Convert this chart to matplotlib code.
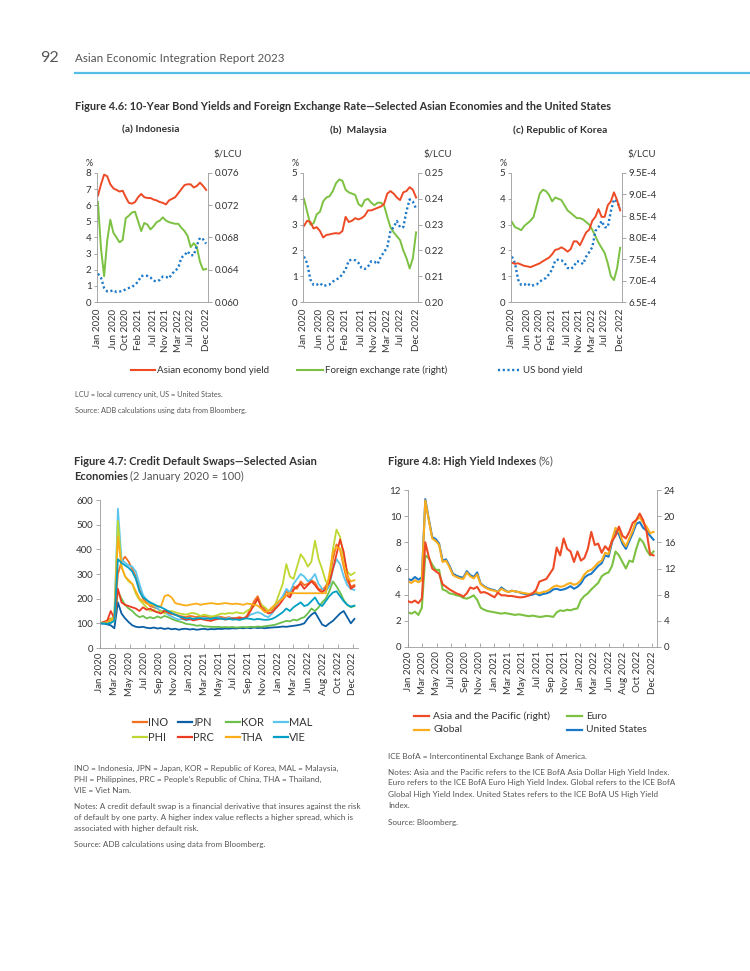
import numpy as np
import matplotlib.pyplot as plt
from matplotlib.lines import Line2D
from matplotlib.ticker import FuncFormatter

plt.rcParams['font.family'] = ['Lato', 'DejaVu Sans']

# ---------------- Figure 4.6 (monthly, Jan 2020 - Dec 2022)
months = np.arange(36)
m_ticks = [0, 5, 9, 13, 18, 22, 26, 30, 35]
m_labels = ['Jan 2020', 'Jun 2020', 'Oct 2020', 'Feb 2021', 'Jul 2021',
            'Nov 2021', 'Mar 2022', 'Jul 2022', 'Dec 2022']

us_yield = [1.76, 1.50, 0.87, 0.66, 0.67, 0.73, 0.62, 0.65, 0.68, 0.79, 0.87, 0.93,
            1.08, 1.26, 1.61, 1.64, 1.62, 1.52, 1.32, 1.28, 1.37, 1.58, 1.56, 1.47,
            1.76, 1.93, 2.13, 2.75, 2.90, 3.14, 2.90, 2.90, 3.52, 3.98, 3.89, 3.62]

idn_yield = [6.6, 7.3, 7.9, 7.8, 7.3, 7.05, 6.95, 6.85, 6.9, 6.5, 6.15, 6.1,
             6.2, 6.5, 6.7, 6.5, 6.45, 6.45, 6.35, 6.3, 6.2, 6.15, 6.05, 6.3,
             6.4, 6.5, 6.75, 7.0, 7.25, 7.3, 7.3, 7.1, 7.2, 7.4, 7.2, 6.95]
idn_fx = [0.0724, 0.0666, 0.0632, 0.0676, 0.0702, 0.0686, 0.0680, 0.0674, 0.0677, 0.0704, 0.0707, 0.0711,
          0.0712, 0.0700, 0.0688, 0.0698, 0.0696, 0.0690, 0.0694, 0.0699, 0.0701, 0.0705, 0.0701, 0.0699,
          0.0698, 0.0697, 0.0697, 0.0692, 0.0688, 0.0682, 0.0668, 0.0673, 0.0668, 0.0650, 0.0640, 0.0641]

mys_yield = [2.95, 3.15, 3.1, 2.85, 2.9, 2.75, 2.5, 2.6, 2.62, 2.65, 2.67, 2.65,
             2.75, 3.3, 3.1, 3.15, 3.25, 3.2, 3.25, 3.35, 3.55, 3.55, 3.6, 3.65,
             3.7, 3.8, 4.2, 4.3, 4.2, 4.05, 3.95, 4.25, 4.3, 4.45, 4.35, 4.05]
mys_fx = [0.240, 0.235, 0.230, 0.2305, 0.234, 0.235, 0.239, 0.2405, 0.241, 0.243, 0.246, 0.2475,
          0.247, 0.2435, 0.2425, 0.242, 0.2415, 0.238, 0.237, 0.2395, 0.240, 0.2385, 0.2375, 0.2385,
          0.2385, 0.2375, 0.233, 0.229, 0.227, 0.2255, 0.224, 0.220, 0.217, 0.213, 0.217, 0.227]

kor_yield = [1.52, 1.48, 1.5, 1.45, 1.4, 1.38, 1.35, 1.4, 1.45, 1.5, 1.58, 1.65,
             1.72, 1.85, 2.02, 2.05, 2.12, 2.05, 1.95, 2.05, 2.35, 2.35, 2.2, 2.45,
             2.7, 2.8, 3.15, 3.3, 3.6, 3.3, 3.3, 3.75, 3.9, 4.25, 3.95, 3.55]
kor_fx_e4 = [8.36, 8.24, 8.21, 8.17, 8.27, 8.33, 8.39, 8.48, 8.75, 9.02, 9.11, 9.08,
             8.99, 8.84, 8.93, 8.90, 8.87, 8.75, 8.63, 8.57, 8.51, 8.45, 8.45, 8.42,
             8.36, 8.30, 8.18, 8.03, 7.88, 7.76, 7.64, 7.40, 7.10, 7.01, 7.28, 7.76]
kor_fx = np.array(kor_fx_e4) * 1e-4

# ---------------- Figure 4.7 and 4.8 (half-month steps)
half = np.arange(72) * 0.5
d_labels = ['Jan 2020', 'Mar 2020', 'May 2020', 'Jul 2020', 'Sep 2020', 'Nov 2020',
            'Jan 2021', 'Mar 2021', 'May 2021', 'Jul 2021', 'Sep 2021', 'Nov 2021',
            'Jan 2022', 'Mar 2022', 'Jun 2022', 'Aug 2022', 'Oct 2022', 'Dec 2022']

ino = [100, 105, 110, 120, 115, 300, 350, 370, 350, 320,
       290, 240, 200, 185, 170, 165, 160, 150, 150, 140,
       138, 135, 130, 128, 125, 130, 128, 125, 130, 128,
       125, 122, 125, 128, 125, 122, 125, 120, 122, 125,
       120, 130, 160, 190, 210, 175, 160, 150, 155, 170,
       190, 200, 230, 215, 250, 240, 270, 255, 260, 275,
       265, 240, 235, 250, 280, 360, 420, 400, 330, 270,
       250, 255]
jpn = [100, 98, 96, 92, 80, 185, 140, 120, 105, 92,
       86, 84, 86, 82, 80, 83, 79, 81, 77, 80,
       76, 78, 74, 77, 78, 75, 77, 74, 76, 78,
       75, 77, 76, 78, 77, 79, 78, 80, 79, 81,
       80, 82, 80, 83, 81, 82, 80, 82, 83, 84,
       85, 87, 86, 88, 90, 92, 95, 100, 120, 135,
       145, 120, 95, 88, 100, 110, 125, 140, 150, 125,
       100, 118]
kor = [100, 102, 100, 105, 110, 230, 200, 175, 160, 150,
       135, 125, 130, 120, 125, 120, 128, 122, 130, 125,
       118, 112, 108, 104, 98, 96, 94, 90, 92, 88,
       87, 86, 85, 86, 84, 85, 84, 85, 83, 84,
       85, 84, 86, 85, 87, 86, 88, 90, 92, 95,
       100, 105, 110, 108, 115, 112, 120, 125, 140, 160,
       150, 165, 185, 200, 230, 270, 250, 225, 195, 175,
       165, 170]
mal = [100, 98, 102, 100, 120, 565, 360, 345, 335, 330,
       310, 260, 215, 195, 180, 170, 160, 150, 145, 135,
       128, 120, 115, 118, 112, 115, 118, 120, 118, 122,
       120, 118, 122, 125, 120, 118, 122, 120, 118, 115,
       120, 125, 135, 140, 145, 140, 130, 125, 140, 160,
       190, 210, 240, 225, 260, 280, 300, 290, 270, 280,
       300, 260, 240, 230, 250, 320, 360, 340, 290, 255,
       240, 235]
phi = [100, 105, 110, 115, 130, 515, 330, 290, 270, 260,
       220, 195, 180, 165, 150, 155, 145, 150, 140, 148,
       150, 145, 140, 138, 135, 140, 142, 138, 130, 135,
       132, 128, 130, 135, 140, 138, 142, 140, 145, 142,
       140, 150, 160, 170, 200, 175, 165, 150, 160, 180,
       220, 260, 340, 290, 280, 330, 380, 360, 330, 350,
       435, 360, 320, 270, 260, 400, 480, 450, 370, 310,
       295, 305]
prc = [100, 105, 110, 150, 120, 240, 185, 175, 170, 165,
       160, 150, 165, 155, 160, 150, 145, 140, 150, 145,
       140, 135, 130, 120, 115, 118, 112, 115, 118, 115,
       112, 110, 115, 118, 120, 115, 118, 120, 118, 122,
       120, 125, 150, 175, 200, 165, 150, 140, 145, 160,
       175, 195, 215, 205, 235, 250, 260, 240, 255, 270,
       255, 235, 225, 240, 265, 320, 380, 440, 390, 300,
       240, 250]
tha = [100, 102, 105, 110, 120, 450, 330, 290, 275, 260,
       230, 200, 190, 180, 175, 172, 170, 168, 210, 215,
       205, 182, 178, 175, 172, 175, 178, 180, 175, 178,
       180, 182, 180, 178, 180, 182, 180, 178, 180, 178,
       175, 180, 178, 175, 172, 160, 145, 150, 165, 175,
       190, 200, 215, 225, 222, 222, 222, 222, 222, 222,
       222, 222, 222, 222, 300, 390, 410, 400, 340, 290,
       270, 275]
vie = [100, 100, 98, 102, 110, 360, 345, 335, 325, 310,
       280, 230, 205, 195, 185, 178, 170, 165, 158, 150,
       142, 135, 128, 125, 120, 122, 118, 120, 122, 118,
       120, 118, 122, 120, 118, 116, 118, 115, 116, 114,
       118, 120, 118, 115, 118, 116, 114, 115, 118, 125,
       135, 145, 160, 150, 165, 175, 185, 170, 175, 190,
       205, 180, 170, 190, 210, 225, 230, 210, 190, 175,
       168, 172]
cds_names = ['INO', 'JPN', 'KOR', 'MAL', 'PHI', 'PRC', 'THA', 'VIE']
cds_series = [ino, jpn, kor, mal, phi, prc, tha, vie]
cds_colors = ['#f37021', '#0b5fa5', '#6cbf4a', '#5bc5ee',
              '#bfd730', '#ec3a23', '#fbad18', '#00a0c4']

asia = [7.0, 6.8, 7.1, 6.7, 7.4, 16.0, 13.8, 12.0, 11.6, 11.2,
        9.6, 9.2, 8.8, 8.5, 8.2, 8.0, 7.7, 8.2, 9.1, 8.9,
        9.2, 8.3, 8.4, 8.2, 7.9, 7.6, 8.3, 7.9, 7.9, 7.8,
        7.8, 7.7, 7.6, 7.6, 7.7, 7.9, 8.2, 8.7, 10.0, 10.2,
        10.4, 11.2, 12.0, 15.2, 14.0, 16.6, 15.0, 14.6, 13.0, 14.6,
        13.2, 13.6, 15.0, 17.6, 15.6, 15.8, 14.4, 15.4, 14.8, 16.2,
        17.0, 18.4, 17.0, 16.6, 17.6, 19.0, 19.4, 20.4, 19.4, 17.6,
        14.2, 14.0]
euro = [2.65, 2.55, 2.7, 2.45, 3.0, 7.0, 6.8, 6.3, 5.9, 5.9,
        4.4, 4.3, 4.1, 4.05, 3.95, 3.9, 3.75, 3.7, 3.8, 3.95,
        3.6, 3.0, 2.85, 2.75, 2.7, 2.65, 2.6, 2.55, 2.6, 2.55,
        2.5, 2.45, 2.5, 2.45, 2.4, 2.35, 2.4, 2.35, 2.3, 2.32,
        2.38, 2.35, 2.3, 2.65, 2.8, 2.75, 2.85, 2.8, 2.9, 2.95,
        3.6, 3.9, 4.1, 4.4, 4.65, 4.9, 5.4, 5.6, 5.7, 6.2,
        7.3, 7.0, 6.5, 6.0, 6.6, 6.5, 7.5, 8.3, 8.0, 7.4,
        7.0, 7.3]
glob = [5.0, 4.9, 5.1, 4.95, 5.1, 11.2, 9.7, 8.3, 8.1, 7.8,
        6.5, 6.6, 6.1, 5.5, 5.35, 5.25, 5.2, 5.7, 5.4, 5.25,
        5.55, 4.8, 4.6, 4.45, 4.35, 4.3, 4.2, 4.45, 4.3, 4.2,
        4.3, 4.25, 4.2, 4.15, 4.1, 4.05, 4.1, 4.2, 4.1, 4.2,
        4.25, 4.4, 4.6, 4.7, 4.6, 4.65, 4.8, 4.9, 4.75, 4.85,
        5.1, 5.55, 5.8, 5.9, 6.15, 6.45, 6.6, 7.2, 7.1, 8.2,
        9.1, 8.9, 8.1, 7.7, 8.3, 8.9, 9.7, 9.9, 9.5, 9.2,
        8.7, 8.8]
usa = [5.2, 5.1, 5.35, 5.15, 5.3, 11.3, 9.8, 8.4, 8.25, 7.9,
       6.6, 6.7, 6.2, 5.6, 5.45, 5.35, 5.3, 5.8, 5.5, 5.35,
       5.7, 4.85, 4.65, 4.5, 4.4, 4.35, 4.2, 4.55, 4.35, 4.2,
       4.3, 4.25, 4.2, 4.1, 4.05, 3.95, 4.0, 4.1, 3.95, 4.05,
       4.1, 4.2, 4.4, 4.45, 4.35, 4.4, 4.5, 4.65, 4.45, 4.6,
       4.85, 5.3, 5.5, 5.6, 5.9, 6.2, 6.4, 7.0, 6.9, 8.0,
       8.9, 8.6, 7.9, 7.5, 8.1, 8.7, 9.4, 9.55, 9.1, 8.9,
       8.5, 8.2]

RED = '#ee4a26'
GREEN = '#7cc142'
BLUE = '#1b78c8'
ORANGE = '#fbad1c'
TXT = '#333333'
NOTE = '#555555'
SPINE = '#9a9a9a'

W, H = 750, 971
fig = plt.figure(figsize=(7.5, 9.71), dpi=100)


def box(x0, y0, x1, y1):
    return [x0 / W, 1 - y1 / H, (x1 - x0) / W, (y1 - y0) / H]


def ftext(x, y, s, **kw):
    kw.setdefault('color', TXT)
    kw.setdefault('va', 'center')
    return fig.text(x / W, 1 - y / H, s, **kw)


def key(x0, x1, y, color, label, ls='-', lw=1.6, size=7, gap=2):
    fig.add_artist(Line2D([x0 / W, x1 / W], [1 - y / H, 1 - y / H],
                          color=color, lw=lw, ls=ls))
    ftext(x1 + gap, y, label, fontsize=size)


def style_axes(ax, keep):
    for name, sp in ax.spines.items():
        sp.set_visible(name in keep)
        sp.set_color(SPINE)
        sp.set_linewidth(0.6)
    ax.tick_params(colors=SPINE, labelcolor=TXT, width=0.6)


# ---- page header
ftext(40, 58, '92', fontsize=11.5, color='#555555')
ftext(75, 58, 'Asian Economic Integration Report 2023', fontsize=8.4, color='#555555')
fig.add_artist(Line2D([75 / W, 1.0], [1 - 73 / H, 1 - 73 / H], color='#55bde6', lw=1.6))

ftext(75, 106, 'Figure 4.6: 10-Year Bond Yields and Foreign Exchange Rate\u2014Selected Asian '
      'Economies and the United States', fontsize=7.9, fontweight='bold')


def bond_panel(x0, x1, title, title_x, own, fx, ymax, fx_ticks, fx_fmt):
    ax = fig.add_axes(box(x0, 173, x1, 302))
    ax2 = ax.twinx()
    ax2.plot(months, fx, color=GREEN, lw=1.4)
    ax.plot(months, us_yield, color=BLUE, lw=1.7, ls=(0, (0.9, 1.1)))
    ax.plot(months, own, color=RED, lw=1.4)
    ax.set_zorder(ax2.get_zorder() + 1)
    ax.patch.set_visible(False)
    ax.set_xlim(-0.3, 35.6)
    ax.set_ylim(0, ymax)
    ax.set_yticks(range(ymax + 1))
    ax2.set_ylim(fx_ticks[0], fx_ticks[-1])
    ax2.set_yticks(fx_ticks)
    ax2.yaxis.set_major_formatter(FuncFormatter(fx_fmt))
    ax.set_xticks(m_ticks)
    ax.set_xticklabels(m_labels, rotation=90)
    style_axes(ax, ['left', 'bottom'])
    style_axes(ax2, ['right'])
    ax.tick_params(axis='x', length=0, pad=5, labelsize=7)
    ax.tick_params(axis='y', length=2, pad=2, labelsize=7)
    ax2.tick_params(axis='y', length=3, pad=2, labelsize=7)
    ftext(title_x, 130, title, fontsize=7.3, fontweight='bold', ha='center')
    ftext(x0 - 4, 164, '%', fontsize=6.5, ha='right')
    ftext(x1 + 5, 155, '$/LCU', fontsize=7)


bond_panel(97, 208, '(a) Indonesia', 151, idn_yield, idn_fx, 8,
           np.linspace(0.060, 0.076, 5), lambda v, p: f'{v:.3f}')
bond_panel(303, 418, '(b)  Malaysia', 358, mys_yield, mys_fx, 5,
           np.linspace(0.20, 0.25, 6), lambda v, p: f'{v:.2f}')
bond_panel(511, 622, '(c) Republic of Korea', 560, kor_yield, kor_fx, 5,
           np.linspace(6.5e-4, 9.5e-4, 7), lambda v, p: f'{v * 1e4:.1f}E-4')

key(131, 155, 370, RED, 'Asian economy bond yield', lw=1.5)
key(297, 323, 370, GREEN, 'Foreign exchange rate (right)', lw=1.5)
key(498, 521, 370, BLUE, 'US bond yield', ls=(0, (0.9, 1.1)), lw=1.7)

ftext(75, 394, 'LCU = local currency unit, US = United States.', fontsize=5.3, color=NOTE)
ftext(75, 410, 'Source: ADB calculations using data from Bloomberg.', fontsize=5.3, color=NOTE)

# ---- Figure 4.7
ftext(74, 461, 'Figure 4.7: Credit Default Swaps\u2014Selected Asian', fontsize=8, fontweight='bold')
t = ftext(74, 476, 'Economies', fontsize=8, fontweight='bold')
r = fig.canvas.get_renderer()
ftext(t.get_window_extent(r).x1 + 2.5, 476, '(2 January 2020 = 100)', fontsize=8, color='#555555')

ax = fig.add_axes(box(100, 500, 358, 648))
for vals, col in zip(cds_series, cds_colors):
    ax.plot(half, vals, color=col, lw=1.3)
ax.set_xlim(0, 36)
ax.set_ylim(0, 600)
ax.set_yticks(range(0, 601, 100))
ax.set_xticks(np.linspace(0, 35.3, 18))
ax.set_xticklabels(d_labels, rotation=90)
style_axes(ax, ['left', 'bottom'])
ax.tick_params(axis='x', direction='in', length=3, pad=3, labelsize=7)
ax.tick_params(axis='y', length=3, pad=2, labelsize=7)

cols_x = [133, 178, 226, 274]
for i, (name, col) in enumerate(zip(cds_names, cds_colors)):
    x0 = cols_x[i % 4]
    y = 722 if i < 4 else 737
    key(x0, x0 + 14, y, col, name, lw=1.6, size=7.9, gap=1)

notes47 = [(768, 'INO = Indonesia, JPN = Japan, KOR = Republic of Korea, MAL = Malaysia,'),
           (779, 'PHI = Philippines, PRC = People\u2019s Republic of China, THA = Thailand,'),
           (790, 'VIE = Viet Nam.'),
           (806, 'Notes: A credit default swap is a financial derivative that insures against the risk'),
           (817, 'of default by one party. A higher index value reflects a higher spread, which is'),
           (828, 'associated with higher default risk.'),
           (844, 'Source: ADB calculations using data from Bloomberg.')]
for y, s in notes47:
    ftext(74, y, s, fontsize=5.85, color=NOTE)

# ---- Figure 4.8
t = ftext(388, 461, 'Figure 4.8: High Yield Indexes', fontsize=8, fontweight='bold')
ftext(t.get_window_extent(r).x1 + 2.5, 461, '(%)', fontsize=8, color='#555555')

ax = fig.add_axes(box(408, 490, 657, 647))
ax2 = ax.twinx()
ax.plot(half, euro, color=GREEN, lw=1.5)
ax.plot(half, usa, color=BLUE, lw=1.5)
ax.plot(half, glob, color=ORANGE, lw=1.5)
ax2.plot(half, asia, color=RED, lw=1.5)
ax.set_xlim(0, 36)
ax.set_ylim(0, 12)
ax2.set_ylim(0, 24)
ax.set_yticks(range(0, 13, 2))
ax2.set_yticks(range(0, 25, 4))
ax.set_xticks(np.linspace(0, 35.3, 18))
ax.set_xticklabels(d_labels, rotation=90)
style_axes(ax, ['left', 'bottom'])
style_axes(ax2, ['right'])
ax.tick_params(axis='x', direction='in', length=3, pad=3, labelsize=7)
ax.tick_params(axis='y', length=3, pad=2, labelsize=7)
ax2.tick_params(axis='y', length=3, pad=2, labelsize=7)

key(414, 429, 716, RED, 'Asia and the Pacific (right)', size=7.4, gap=4)
key(567, 582, 716, GREEN, 'Euro', size=7.4, gap=4)
key(414, 429, 730, ORANGE, 'Global', size=7.4, gap=4)
key(567, 582, 730, BLUE, 'United States', size=7.4, gap=4)

notes48 = [(756, 'ICE BofA = Intercontinental Exchange Bank of America.'),
           (772, 'Notes: Asia and the Pacific refers to the ICE BofA Asia Dollar High Yield Index.'),
           (783, 'Euro refers to the ICE BofA Euro High Yield Index. Global refers to the ICE BofA'),
           (794, 'Global High Yield Index. United States refers to the ICE BofA US High Yield'),
           (805, 'Index.'),
           (822, 'Source: Bloomberg.')]
for y, s in notes48:
    ftext(388, y, s, fontsize=5.85, color=NOTE)

fig.savefig('out.png', dpi=100, facecolor='white')
